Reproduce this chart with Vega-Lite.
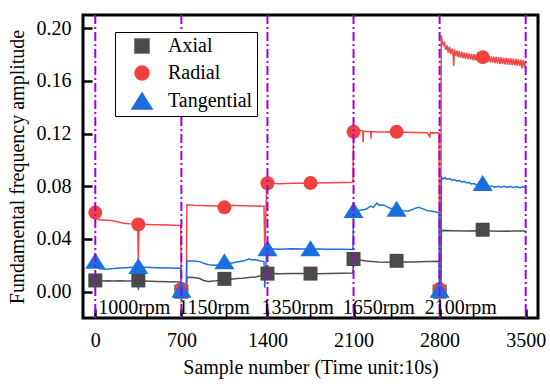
{
  "$schema": "https://vega.github.io/schema/vega-lite/v6.json",
  "width": 455,
  "height": 303,
  "autosize": {"type": "none"},
  "padding": {"left": 83, "top": 15, "right": 12, "bottom": 69},
  "background": "white",
  "config": {
    "font": "Liberation Serif",
    "view": {"stroke": "#000000", "strokeWidth": 3},
    "axis": {
      "labelFont": "Liberation Serif",
      "labelFontSize": 20,
      "labelColor": "#000000",
      "titleFont": "Liberation Serif",
      "titleFontSize": 20,
      "titleFontWeight": "normal",
      "titleColor": "#000000",
      "grid": false,
      "domain": false,
      "tickColor": "#000000",
      "tickWidth": 2.5,
      "tickSize": -9,
      "labelPadding": 21
    },
    "legend": {
      "labelFont": "Liberation Serif",
      "labelFontSize": 20,
      "labelColor": "#000000"
    }
  },
  "datasets": {
    "lines": [
      {"s": "Axial", "x": 0, "y": 0.0078}, {"s": "Axial", "x": 50, "y": 0.0080}, {"s": "Axial", "x": 100, "y": 0.0082}, {"s": "Axial", "x": 150, "y": 0.0080}, {"s": "Axial", "x": 200, "y": 0.0083}, {"s": "Axial", "x": 250, "y": 0.0081}, {"s": "Axial", "x": 300, "y": 0.0080}, {"s": "Axial", "x": 345, "y": 0.0081}, {"s": "Axial", "x": 400, "y": 0.0080}, {"s": "Axial", "x": 500, "y": 0.0078}, {"s": "Axial", "x": 600, "y": 0.0076}, {"s": "Axial", "x": 695, "y": 0.0074}, {"s": "Axial", "x": 700, "y": 0.0}, {"s": "Axial", "x": 740, "y": 0.0},
      {"s": "Axial", "x": 745, "y": 0.0110}, {"s": "Axial", "x": 800, "y": 0.0108}, {"s": "Axial", "x": 850, "y": 0.0100}, {"s": "Axial", "x": 880, "y": 0.0085}, {"s": "Axial", "x": 920, "y": 0.0078}, {"s": "Axial", "x": 980, "y": 0.0082}, {"s": "Axial", "x": 1050, "y": 0.0090}, {"s": "Axial", "x": 1100, "y": 0.0095}, {"s": "Axial", "x": 1150, "y": 0.0100}, {"s": "Axial", "x": 1200, "y": 0.0102}, {"s": "Axial", "x": 1250, "y": 0.0108}, {"s": "Axial", "x": 1300, "y": 0.0112}, {"s": "Axial", "x": 1350, "y": 0.0120}, {"s": "Axial", "x": 1395, "y": 0.0125},
      {"s": "Axial", "x": 1400, "y": 0.0135}, {"s": "Axial", "x": 1450, "y": 0.0138}, {"s": "Axial", "x": 1500, "y": 0.0136}, {"s": "Axial", "x": 1600, "y": 0.0137}, {"s": "Axial", "x": 1700, "y": 0.0138}, {"s": "Axial", "x": 1800, "y": 0.0136}, {"s": "Axial", "x": 1900, "y": 0.0138}, {"s": "Axial", "x": 2000, "y": 0.0140}, {"s": "Axial", "x": 2095, "y": 0.0141},
      {"s": "Axial", "x": 2100, "y": 0.0245}, {"s": "Axial", "x": 2150, "y": 0.0240}, {"s": "Axial", "x": 2200, "y": 0.0232}, {"s": "Axial", "x": 2250, "y": 0.0228}, {"s": "Axial", "x": 2300, "y": 0.0225}, {"s": "Axial", "x": 2400, "y": 0.0224}, {"s": "Axial", "x": 2500, "y": 0.0225}, {"s": "Axial", "x": 2600, "y": 0.0226}, {"s": "Axial", "x": 2700, "y": 0.0228}, {"s": "Axial", "x": 2795, "y": 0.0230}, {"s": "Axial", "x": 2800, "y": 0.0}, {"s": "Axial", "x": 2810, "y": 0.0},
      {"s": "Axial", "x": 2815, "y": 0.0465}, {"s": "Axial", "x": 2900, "y": 0.0462}, {"s": "Axial", "x": 3000, "y": 0.0460}, {"s": "Axial", "x": 3100, "y": 0.0462}, {"s": "Axial", "x": 3200, "y": 0.0460}, {"s": "Axial", "x": 3300, "y": 0.0458}, {"s": "Axial", "x": 3400, "y": 0.0460}, {"s": "Axial", "x": 3500, "y": 0.0460},

      {"s": "Radial", "x": 0, "y": 0.0560}, {"s": "Radial", "x": 30, "y": 0.0545}, {"s": "Radial", "x": 80, "y": 0.0542}, {"s": "Radial", "x": 130, "y": 0.0540}, {"s": "Radial", "x": 180, "y": 0.0530}, {"s": "Radial", "x": 230, "y": 0.0520}, {"s": "Radial", "x": 280, "y": 0.0515}, {"s": "Radial", "x": 345, "y": 0.0512}, {"s": "Radial", "x": 350, "y": 0.0220}, {"s": "Radial", "x": 355, "y": 0.0512}, {"s": "Radial", "x": 420, "y": 0.0510}, {"s": "Radial", "x": 500, "y": 0.0508}, {"s": "Radial", "x": 600, "y": 0.0505}, {"s": "Radial", "x": 695, "y": 0.0502}, {"s": "Radial", "x": 700, "y": 0.0}, {"s": "Radial", "x": 740, "y": 0.0},
      {"s": "Radial", "x": 745, "y": 0.0660}, {"s": "Radial", "x": 800, "y": 0.0655}, {"s": "Radial", "x": 900, "y": 0.0652}, {"s": "Radial", "x": 1000, "y": 0.0650}, {"s": "Radial", "x": 1100, "y": 0.0655}, {"s": "Radial", "x": 1200, "y": 0.0652}, {"s": "Radial", "x": 1300, "y": 0.0650}, {"s": "Radial", "x": 1372, "y": 0.0648}, {"s": "Radial", "x": 1378, "y": 0.0310}, {"s": "Radial", "x": 1395, "y": 0.0820},
      {"s": "Radial", "x": 1400, "y": 0.0822}, {"s": "Radial", "x": 1500, "y": 0.0820}, {"s": "Radial", "x": 1600, "y": 0.0822}, {"s": "Radial", "x": 1700, "y": 0.0823}, {"s": "Radial", "x": 1800, "y": 0.0825}, {"s": "Radial", "x": 1900, "y": 0.0826}, {"s": "Radial", "x": 2000, "y": 0.0828}, {"s": "Radial", "x": 2095, "y": 0.0830},
      {"s": "Radial", "x": 2100, "y": 0.1215}, {"s": "Radial", "x": 2140, "y": 0.1225}, {"s": "Radial", "x": 2176, "y": 0.1220}, {"s": "Radial", "x": 2178, "y": 0.1135}, {"s": "Radial", "x": 2181, "y": 0.1218}, {"s": "Radial", "x": 2240, "y": 0.1215}, {"s": "Radial", "x": 2242, "y": 0.1160}, {"s": "Radial", "x": 2245, "y": 0.1215}, {"s": "Radial", "x": 2300, "y": 0.1212}, {"s": "Radial", "x": 2400, "y": 0.1212}, {"s": "Radial", "x": 2500, "y": 0.1210}, {"s": "Radial", "x": 2600, "y": 0.1208}, {"s": "Radial", "x": 2700, "y": 0.1207}, {"s": "Radial", "x": 2720, "y": 0.1175}, {"s": "Radial", "x": 2725, "y": 0.1207}, {"s": "Radial", "x": 2795, "y": 0.1205}, {"s": "Radial", "x": 2800, "y": 0.0}, {"s": "Radial", "x": 2810, "y": 0.0},
      {"s": "Radial", "x": 2813, "y": 0.1945}, {"s": "Radial", "x": 2820, "y": 0.1905}, {"s": "Radial", "x": 2830, "y": 0.1870}, {"s": "Radial", "x": 2840, "y": 0.1890}, {"s": "Radial", "x": 2850, "y": 0.1835}, {"s": "Radial", "x": 2860, "y": 0.1870}, {"s": "Radial", "x": 2870, "y": 0.1815}, {"s": "Radial", "x": 2880, "y": 0.1860}, {"s": "Radial", "x": 2890, "y": 0.1805}, {"s": "Radial", "x": 2900, "y": 0.1845}, {"s": "Radial", "x": 2910, "y": 0.1795}, {"s": "Radial", "x": 2915, "y": 0.1715}, {"s": "Radial", "x": 2920, "y": 0.1840}, {"s": "Radial", "x": 2930, "y": 0.1790}, {"s": "Radial", "x": 2940, "y": 0.1830}, {"s": "Radial", "x": 2950, "y": 0.1780}, {"s": "Radial", "x": 2960, "y": 0.1828}, {"s": "Radial", "x": 2970, "y": 0.1775}, {"s": "Radial", "x": 2980, "y": 0.1820}, {"s": "Radial", "x": 2990, "y": 0.1772}, {"s": "Radial", "x": 3000, "y": 0.1815}, {"s": "Radial", "x": 3010, "y": 0.1768}, {"s": "Radial", "x": 3020, "y": 0.1812}, {"s": "Radial", "x": 3030, "y": 0.1765}, {"s": "Radial", "x": 3040, "y": 0.1808}, {"s": "Radial", "x": 3050, "y": 0.1762}, {"s": "Radial", "x": 3060, "y": 0.1805}, {"s": "Radial", "x": 3070, "y": 0.1758}, {"s": "Radial", "x": 3080, "y": 0.1802}, {"s": "Radial", "x": 3090, "y": 0.1755}, {"s": "Radial", "x": 3100, "y": 0.1800}, {"s": "Radial", "x": 3110, "y": 0.1752}, {"s": "Radial", "x": 3120, "y": 0.1798}, {"s": "Radial", "x": 3130, "y": 0.1750}, {"s": "Radial", "x": 3140, "y": 0.1795}, {"s": "Radial", "x": 3150, "y": 0.1748}, {"s": "Radial", "x": 3160, "y": 0.1793}, {"s": "Radial", "x": 3170, "y": 0.1745}, {"s": "Radial", "x": 3180, "y": 0.1790}, {"s": "Radial", "x": 3190, "y": 0.1742}, {"s": "Radial", "x": 3200, "y": 0.1788}, {"s": "Radial", "x": 3210, "y": 0.1740}, {"s": "Radial", "x": 3220, "y": 0.1786}, {"s": "Radial", "x": 3230, "y": 0.1738}, {"s": "Radial", "x": 3240, "y": 0.1784}, {"s": "Radial", "x": 3250, "y": 0.1735}, {"s": "Radial", "x": 3260, "y": 0.1782}, {"s": "Radial", "x": 3270, "y": 0.1733}, {"s": "Radial", "x": 3280, "y": 0.1780}, {"s": "Radial", "x": 3290, "y": 0.1730}, {"s": "Radial", "x": 3300, "y": 0.1778}, {"s": "Radial", "x": 3310, "y": 0.1728}, {"s": "Radial", "x": 3320, "y": 0.1776}, {"s": "Radial", "x": 3330, "y": 0.1726}, {"s": "Radial", "x": 3340, "y": 0.1774}, {"s": "Radial", "x": 3350, "y": 0.1724}, {"s": "Radial", "x": 3360, "y": 0.1772}, {"s": "Radial", "x": 3370, "y": 0.1722}, {"s": "Radial", "x": 3380, "y": 0.1770}, {"s": "Radial", "x": 3390, "y": 0.1720}, {"s": "Radial", "x": 3400, "y": 0.1768}, {"s": "Radial", "x": 3410, "y": 0.1718}, {"s": "Radial", "x": 3420, "y": 0.1766}, {"s": "Radial", "x": 3430, "y": 0.1716}, {"s": "Radial", "x": 3440, "y": 0.1764}, {"s": "Radial", "x": 3450, "y": 0.1714}, {"s": "Radial", "x": 3460, "y": 0.1762}, {"s": "Radial", "x": 3470, "y": 0.1695}, {"s": "Radial", "x": 3480, "y": 0.1758}, {"s": "Radial", "x": 3490, "y": 0.1712}, {"s": "Radial", "x": 3500, "y": 0.1740},

      {"s": "Tangential", "x": 0, "y": 0.0200}, {"s": "Tangential", "x": 30, "y": 0.0175}, {"s": "Tangential", "x": 80, "y": 0.0170}, {"s": "Tangential", "x": 150, "y": 0.0175}, {"s": "Tangential", "x": 200, "y": 0.0180}, {"s": "Tangential", "x": 250, "y": 0.0182}, {"s": "Tangential", "x": 300, "y": 0.0185}, {"s": "Tangential", "x": 345, "y": 0.0186}, {"s": "Tangential", "x": 350, "y": 0.0010}, {"s": "Tangential", "x": 355, "y": 0.0186}, {"s": "Tangential", "x": 400, "y": 0.0185}, {"s": "Tangential", "x": 500, "y": 0.0182}, {"s": "Tangential", "x": 600, "y": 0.0180}, {"s": "Tangential", "x": 695, "y": 0.0178}, {"s": "Tangential", "x": 700, "y": 0.0}, {"s": "Tangential", "x": 740, "y": 0.0},
      {"s": "Tangential", "x": 745, "y": 0.0232}, {"s": "Tangential", "x": 800, "y": 0.0232}, {"s": "Tangential", "x": 850, "y": 0.0228}, {"s": "Tangential", "x": 880, "y": 0.0215}, {"s": "Tangential", "x": 920, "y": 0.0205}, {"s": "Tangential", "x": 980, "y": 0.0200}, {"s": "Tangential", "x": 1050, "y": 0.0205}, {"s": "Tangential", "x": 1100, "y": 0.0215}, {"s": "Tangential", "x": 1150, "y": 0.0225}, {"s": "Tangential", "x": 1200, "y": 0.0232}, {"s": "Tangential", "x": 1250, "y": 0.0248}, {"s": "Tangential", "x": 1280, "y": 0.0240}, {"s": "Tangential", "x": 1300, "y": 0.0243}, {"s": "Tangential", "x": 1340, "y": 0.0232}, {"s": "Tangential", "x": 1372, "y": 0.0228}, {"s": "Tangential", "x": 1378, "y": 0.0030}, {"s": "Tangential", "x": 1395, "y": 0.0325},
      {"s": "Tangential", "x": 1400, "y": 0.0326}, {"s": "Tangential", "x": 1500, "y": 0.0322}, {"s": "Tangential", "x": 1600, "y": 0.0325}, {"s": "Tangential", "x": 1700, "y": 0.0324}, {"s": "Tangential", "x": 1800, "y": 0.0323}, {"s": "Tangential", "x": 1900, "y": 0.0322}, {"s": "Tangential", "x": 2000, "y": 0.0322}, {"s": "Tangential", "x": 2095, "y": 0.0320},
      {"s": "Tangential", "x": 2100, "y": 0.0615}, {"s": "Tangential", "x": 2150, "y": 0.0618}, {"s": "Tangential", "x": 2200, "y": 0.0625}, {"s": "Tangential", "x": 2240, "y": 0.0650}, {"s": "Tangential", "x": 2260, "y": 0.0640}, {"s": "Tangential", "x": 2290, "y": 0.0672}, {"s": "Tangential", "x": 2310, "y": 0.0655}, {"s": "Tangential", "x": 2340, "y": 0.0660}, {"s": "Tangential", "x": 2380, "y": 0.0640}, {"s": "Tangential", "x": 2420, "y": 0.0625}, {"s": "Tangential", "x": 2450, "y": 0.0622}, {"s": "Tangential", "x": 2500, "y": 0.0615}, {"s": "Tangential", "x": 2550, "y": 0.0612}, {"s": "Tangential", "x": 2600, "y": 0.0632}, {"s": "Tangential", "x": 2630, "y": 0.0640}, {"s": "Tangential", "x": 2660, "y": 0.0630}, {"s": "Tangential", "x": 2700, "y": 0.0615}, {"s": "Tangential", "x": 2750, "y": 0.0608}, {"s": "Tangential", "x": 2795, "y": 0.0600}, {"s": "Tangential", "x": 2800, "y": 0.0}, {"s": "Tangential", "x": 2810, "y": 0.0},
      {"s": "Tangential", "x": 2815, "y": 0.0868}, {"s": "Tangential", "x": 2830, "y": 0.0855}, {"s": "Tangential", "x": 2845, "y": 0.0866}, {"s": "Tangential", "x": 2860, "y": 0.0852}, {"s": "Tangential", "x": 2880, "y": 0.0858}, {"s": "Tangential", "x": 2900, "y": 0.0846}, {"s": "Tangential", "x": 2920, "y": 0.0850}, {"s": "Tangential", "x": 2940, "y": 0.0840}, {"s": "Tangential", "x": 2960, "y": 0.0843}, {"s": "Tangential", "x": 2980, "y": 0.0832}, {"s": "Tangential", "x": 3000, "y": 0.0836}, {"s": "Tangential", "x": 3020, "y": 0.0826}, {"s": "Tangential", "x": 3040, "y": 0.0828}, {"s": "Tangential", "x": 3060, "y": 0.0818}, {"s": "Tangential", "x": 3080, "y": 0.0820}, {"s": "Tangential", "x": 3100, "y": 0.0810}, {"s": "Tangential", "x": 3125, "y": 0.0812}, {"s": "Tangential", "x": 3150, "y": 0.0804}, {"s": "Tangential", "x": 3175, "y": 0.0802}, {"s": "Tangential", "x": 3200, "y": 0.0794}, {"s": "Tangential", "x": 3225, "y": 0.0801}, {"s": "Tangential", "x": 3250, "y": 0.0793}, {"s": "Tangential", "x": 3275, "y": 0.0800}, {"s": "Tangential", "x": 3300, "y": 0.0792}, {"s": "Tangential", "x": 3325, "y": 0.0799}, {"s": "Tangential", "x": 3350, "y": 0.0791}, {"s": "Tangential", "x": 3375, "y": 0.0798}, {"s": "Tangential", "x": 3400, "y": 0.0790}, {"s": "Tangential", "x": 3425, "y": 0.0797}, {"s": "Tangential", "x": 3450, "y": 0.0789}, {"s": "Tangential", "x": 3475, "y": 0.0796}, {"s": "Tangential", "x": 3500, "y": 0.0790}
    ],
    "markers": [
      {"s": "Axial", "x": 0, "y": 0.0085}, {"s": "Axial", "x": 350, "y": 0.0085}, {"s": "Axial", "x": 700, "y": 0.0}, {"s": "Axial", "x": 1050, "y": 0.0097}, {"s": "Axial", "x": 1400, "y": 0.0137}, {"s": "Axial", "x": 1750, "y": 0.0137}, {"s": "Axial", "x": 2100, "y": 0.0248}, {"s": "Axial", "x": 2450, "y": 0.0234}, {"s": "Axial", "x": 2800, "y": 0.0}, {"s": "Axial", "x": 3150, "y": 0.0470},
      {"s": "Radial", "x": 0, "y": 0.0600}, {"s": "Radial", "x": 350, "y": 0.0510}, {"s": "Radial", "x": 700, "y": 0.0020}, {"s": "Radial", "x": 1050, "y": 0.0640}, {"s": "Radial", "x": 1400, "y": 0.0823}, {"s": "Radial", "x": 1750, "y": 0.0825}, {"s": "Radial", "x": 2100, "y": 0.1213}, {"s": "Radial", "x": 2450, "y": 0.1213}, {"s": "Radial", "x": 2800, "y": 0.0020}, {"s": "Radial", "x": 3150, "y": 0.1780},
      {"s": "Tangential", "x": 0, "y": 0.0235}, {"s": "Tangential", "x": 350, "y": 0.0195}, {"s": "Tangential", "x": 700, "y": 0.0015}, {"s": "Tangential", "x": 1050, "y": 0.0230}, {"s": "Tangential", "x": 1400, "y": 0.0330}, {"s": "Tangential", "x": 1750, "y": 0.0330}, {"s": "Tangential", "x": 2100, "y": 0.0620}, {"s": "Tangential", "x": 2450, "y": 0.0630}, {"s": "Tangential", "x": 2800, "y": 0.0015}, {"s": "Tangential", "x": 3150, "y": 0.0825}
    ],
    "rules": [{"x": 0}, {"x": 700}, {"x": 1400}, {"x": 2100}, {"x": 2800}, {"x": 3500}],
    "labels": [
      {"x": 317, "y": -0.0125, "t": "1000rpm"},
      {"x": 966, "y": -0.0125, "t": "1150rpm"},
      {"x": 1645, "y": -0.0125, "t": "1350rpm"},
      {"x": 2305, "y": -0.0125, "t": "1650rpm"},
      {"x": 2972, "y": -0.0125, "t": "2100rpm"}
    ]
  },
  "encoding": {
    "x": {
      "field": "x",
      "type": "quantitative",
      "scale": {"domain": [-100, 3600], "nice": false, "zero": false},
      "axis": {"values": [0, 700, 1400, 2100, 2800, 3500], "format": "d", "title": "Sample number (Time unit:10s)", "titlePadding": 7}
    }
  },
  "layer": [
    {
      "data": {"name": "lines"},
      "mark": {"type": "line", "strokeWidth": 1.5},
      "encoding": {
        "y": {
          "field": "y",
          "type": "quantitative",
          "scale": {"domain": [-0.02, 0.21], "nice": false, "zero": false},
          "axis": {"values": [0, 0.04, 0.08, 0.12, 0.16, 0.2], "format": ".2f", "title": "Fundamental frequency amplitude", "titlePadding": 9}
        },
        "stroke": {
          "field": "s",
          "type": "nominal",
          "scale": {"domain": ["Axial", "Radial", "Tangential"], "range": ["#505050", "#f24545", "#1f6fdc"]}
        }
      }
    },
    {
      "data": {"name": "markers"},
      "mark": {"type": "point", "filled": true, "opacity": 1, "size": 196},
      "encoding": {
        "y": {"field": "y", "type": "quantitative"},
        "color": {
          "field": "s",
          "type": "nominal",
          "scale": {"domain": ["Axial", "Radial", "Tangential"], "range": ["#4a4a4a", "#f04040", "#1a6fdf"]},
          "legend": {
            "title": null,
            "orient": "none",
            "legendX": 32,
            "legendY": 17,
            "padding": 4,
            "strokeColor": "#000000",
            "fillColor": "#ffffff",
            "symbolSize": 196,
            "symbolOffset": 13,
            "labelOffset": 16,
            "rowPadding": 7
          }
        },
        "shape": {
          "field": "s",
          "type": "nominal",
          "scale": {"domain": ["Axial", "Radial", "Tangential"], "range": ["square", "circle", "M0,-1.14L1.43,1.14H-1.43Z"]}
        }
      }
    },
    {
      "data": {"name": "rules"},
      "mark": {"type": "rule", "color": "#a000e0", "strokeWidth": 2, "strokeDash": [9, 3, 2, 3]},
      "encoding": {}
    },
    {
      "data": {"name": "labels"},
      "mark": {"type": "text", "font": "Liberation Serif", "fontSize": 20, "color": "#000000", "baseline": "middle", "align": "center"},
      "encoding": {
        "y": {"field": "y", "type": "quantitative"},
        "text": {"field": "t", "type": "nominal"}
      }
    }
  ]
}
